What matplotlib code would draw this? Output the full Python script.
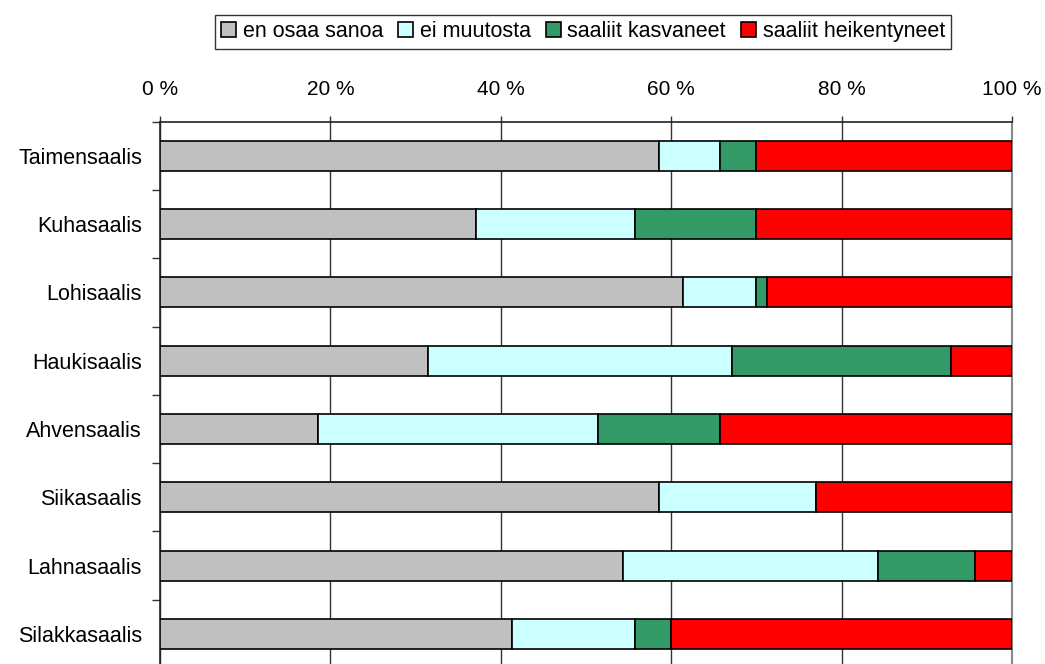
import numpy as np
import matplotlib.pyplot as plt
from matplotlib.ticker import FixedLocator

plt.rcParams['font.family'] = ['Liberation Sans', 'DejaVu Sans']

# data (percent shares)
categories = ['Taimensaalis', 'Kuhasaalis', 'Lohisaalis', 'Haukisaalis',
              'Ahvensaalis', 'Siikasaalis', 'Lahnasaalis', 'Silakkasaalis']
en_osaa = [58.6, 37.1, 61.4, 31.4, 18.6, 58.6, 54.3, 41.3]
ei_muutosta = [7.1, 18.7, 8.5, 35.7, 32.8, 18.4, 30.0, 14.5]
kasvaneet = [4.3, 14.2, 1.4, 25.7, 14.3, 0.0, 11.4, 4.2]
heikentyneet = [30.0, 30.0, 28.7, 7.2, 34.3, 23.0, 4.3, 40.0]

series = [('en osaa sanoa', en_osaa, '#C0C0C0'),
          ('ei muutosta', ei_muutosta, '#CCFFFF'),
          ('saaliit kasvaneet', kasvaneet, '#339966'),
          ('saaliit heikentyneet', heikentyneet, '#FF0000')]

fig = plt.figure(figsize=(10.45, 6.64), dpi=100)
ax = fig.add_axes([0.1531, -0.006, 0.8153, 0.8228])

y = np.arange(len(categories))
left = np.zeros(len(categories))
handles = []
for name, vals, col in series:
    b = ax.barh(y, vals, left=left, height=0.44, color=col,
                edgecolor='black', linewidth=1.2, label=name, zorder=3)
    handles.append(b)
    left = left + np.array(vals)

ax.set_xlim(0, 100)
ax.set_ylim(len(categories) - 0.5, -0.5)

ax.xaxis.tick_top()
ax.set_xticks([0, 20, 40, 60, 80, 100])
ax.set_xticklabels(['0 %', '20 %', '40 %', '60 %', '80 %', '100 %'], fontsize=15)
ax.tick_params(axis='x', direction='out', length=4.5, width=1, pad=12, color='#333333')

ax.set_yticks(y)
ax.set_yticklabels(categories, fontsize=15.5)
ax.tick_params(axis='y', which='major', length=0, pad=13)
ax.yaxis.set_minor_locator(FixedLocator(np.arange(-0.5, len(categories), 1.0)))
ax.tick_params(axis='y', which='minor', direction='out', length=5.8, width=1, color='#333333')

ax.grid(axis='x', color='#333333', linewidth=1, zorder=0)
for s in ['top', 'left']:
    ax.spines[s].set_color('#222222')
    ax.spines[s].set_linewidth(1.2)
ax.spines['right'].set_color('#888888')
ax.spines['right'].set_linewidth(1.5)
ax.spines['bottom'].set_visible(False)

leg = fig.legend(handles=handles, loc='center', bbox_to_anchor=(0.558, 0.952),
                 ncol=4, fontsize=15.5, frameon=True, fancybox=False,
                 edgecolor='black', handlelength=0.7, handleheight=0.7,
                 handletextpad=0.3, columnspacing=0.7, borderpad=0.3,
                 borderaxespad=0)
leg.get_frame().set_linewidth(1)

fig.savefig('out.png', dpi=100)
